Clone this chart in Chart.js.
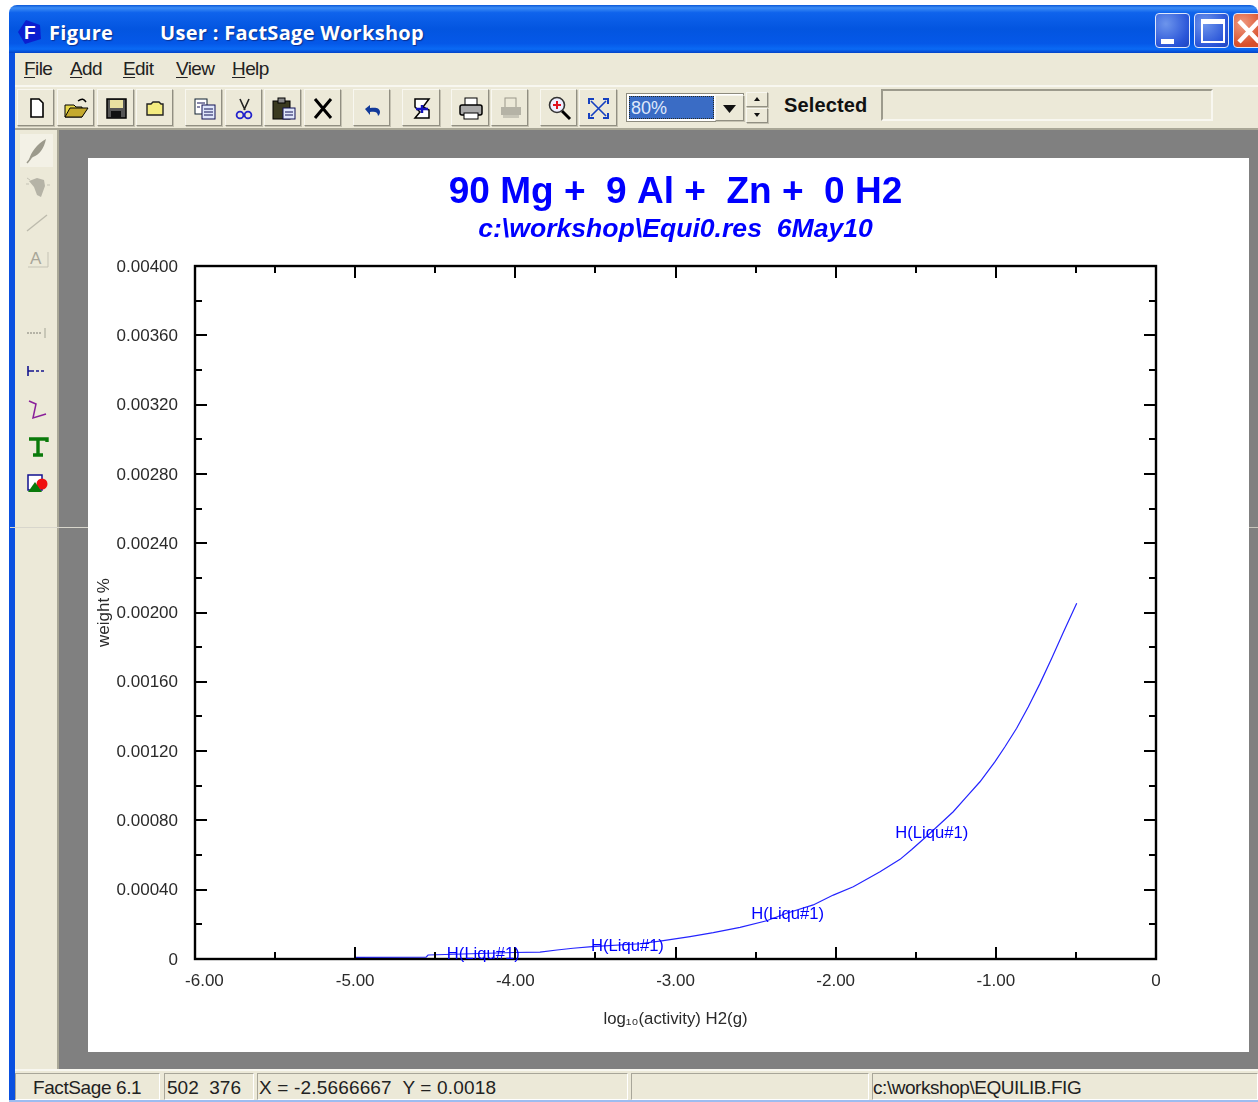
<!DOCTYPE html>
<html><head><meta charset="utf-8"><title>FactSage Figure</title>
<script src="https://cdn.jsdelivr.net/npm/chart.js@4"></script>
<style>
html,body{margin:0;padding:0;background:#fff;width:1258px;height:1102px;overflow:hidden}
body{font-family:"Liberation Sans",Arial,sans-serif;color:#222}
.a{position:absolute;box-sizing:border-box}
#titlebar{left:9px;top:5px;width:1249px;height:48px;border-radius:8px 8px 0 0;background:linear-gradient(#0a58d8 0,#3d8df5 6%,#0f63ec 16%,#0355e0 50%,#0558e8 80%,#0a6af5 92%,#0342c8 100%)}
.tt{color:#fff;font:bold 20px "Open Sans",sans-serif;letter-spacing:.3px;top:18px;text-shadow:1px 1px 1px #0a2f90;white-space:pre;line-height:30px}
.wb{top:13px;height:35px;border:1px solid #dfe8fb;border-radius:4px;background:radial-gradient(circle at 30% 30%,#6d95ec,#2a55d8 70%,#1f45c0)}
.menu{top:57px;font-size:19px;line-height:24px;color:#222;letter-spacing:-.6px}
.menu u{text-underline-offset:2px}
.btn{top:89px;height:37px;background:#ece9d8;border:1px solid;border-color:#f8f7f0 #918f82 #918f82 #f8f7f0;box-shadow:1px 1px 0 #c5c2b2}
.btn svg,.tool svg{position:absolute;left:0;top:0}
.tool{left:20px;width:33px;height:33px}
.sp{top:1073px;height:27px;border:1px solid;border-color:#a8a699 #fff #fff #a8a699;font-size:19px;line-height:28px;white-space:pre;padding-left:2px;background:#ece9d8;color:#222}
#chartBox{left:88px;top:158px;width:1161px;height:894px;background:#fff}
</style></head>
<body>
<div class="a" style="left:9px;top:50px;width:6px;height:1052px;background:#0a50e0"></div>
<div class="a" style="left:15px;top:53px;width:1243px;height:1049px;background:#ece9d8"></div>
<div class="a" id="titlebar"></div>
<svg class="a" style="left:17px;top:19px" width="26" height="26" viewBox="0 0 26 26"><polygon points="9,1 23,6 24,20 8,25 1,13" fill="#0b1fd0"/><text x="7" y="20" font-family="Liberation Sans" font-weight="bold" font-size="19" fill="#fff">F</text></svg>
<div class="a tt" style="left:49px">Figure</div>
<div class="a tt" style="left:160px">User : FactSage Workshop</div>
<div class="a wb" style="left:1155px;width:35px"><div class="a" style="left:5px;top:25px;width:13px;height:5px;background:#fff"></div></div>
<div class="a wb" style="left:1194px;width:35px"><div class="a" style="left:6px;top:5px;width:24px;height:24px;border:2px solid #fff;border-top-width:5px"></div></div>
<div class="a wb" style="left:1233px;width:30px;background:radial-gradient(circle at 30% 30%,#ef9a80,#d9502c 70%)"><svg width="25" height="33" style="position:absolute;left:0;top:0"><path d="M5 7 L25 28 M25 7 L5 28" stroke="#fff" stroke-width="4.5"/></svg></div>

<div class="a menu" style="left:24px"><u>F</u>ile</div>
<div class="a menu" style="left:70px"><u>A</u>dd</div>
<div class="a menu" style="left:123px"><u>E</u>dit</div>
<div class="a menu" style="left:176px"><u>V</u>iew</div>
<div class="a menu" style="left:232px"><u>H</u>elp</div>
<div class="a" style="left:15px;top:85px;width:1243px;height:2px;background:#f8f7f0"></div>
<div class="a" style="left:15px;top:128px;width:1243px;height:2px;background:#a9a797"></div>

<!-- toolbar buttons -->
<div class="a btn" style="left:17px;width:37px"><svg width="37" height="37"><path d="M13 9h8l4 4v14H13z" fill="#fff" stroke="#000" stroke-width="1.6"/></svg></div>
<div class="a btn" style="left:57px;width:37px"><svg width="37" height="37"><path d="M7 15h9l2 2h6v10H7z" fill="#e8d84a" stroke="#000"/><path d="M7 27l5-9h18l-6 9z" fill="#c4a92e" stroke="#000"/><path d="M20 11c4-3 6-2 8 1" fill="none" stroke="#000" stroke-width="1.5"/></svg></div>
<div class="a btn" style="left:97px;width:37px"><svg width="37" height="37"><rect x="9" y="9" width="19" height="19" fill="#555" stroke="#000" stroke-width="1.5"/><rect x="12" y="10" width="13" height="8" fill="#e8e0a0"/><rect x="13" y="21" width="10" height="7" fill="#111"/></svg></div>
<div class="a btn" style="left:136px;width:37px"><svg width="37" height="37"><path d="M10 14h4l2-2h6l2 2h2v11H10z" fill="#f4ec80" stroke="#222" stroke-width="1.4"/></svg></div>
<div class="a btn" style="left:185px;width:37px"><svg width="37" height="37"><rect x="9" y="9" width="12" height="15" fill="#fff" stroke="#123"/><rect x="16" y="15" width="13" height="14" fill="#dfe6fa" stroke="#115"/><path d="M18 19h9M18 22h9M18 25h9M11 13h8M11 17h3" stroke="#115"/></svg></div>
<div class="a btn" style="left:225px;width:37px"><svg width="37" height="37"><path d="M14 9l5 11M23 9l-5 11" stroke="#222" stroke-width="1.6"/><circle cx="14" cy="25" r="3.4" fill="none" stroke="#22c" stroke-width="1.8"/><circle cx="22" cy="25" r="3.4" fill="none" stroke="#22c" stroke-width="1.8"/></svg></div>
<div class="a btn" style="left:264px;width:37px"><svg width="37" height="37"><rect x="8" y="11" width="17" height="18" fill="#3a3a20" stroke="#000"/><rect x="13" y="8" width="7" height="5" fill="#888" stroke="#000"/><rect x="18" y="18" width="12" height="11" fill="#dfe6fa" stroke="#115"/><path d="M20 22h8M20 25h8" stroke="#115"/></svg></div>
<div class="a btn" style="left:304px;width:37px"><svg width="37" height="37"><path d="M10 9l16 19M26 9L10 28" stroke="#000" stroke-width="3"/></svg></div>
<div class="a btn" style="left:353px;width:37px"><svg width="37" height="37"><path d="M11 19l5-4v3c6-1 10 0 10 4 0 2-1 3-2 4 0-4-3-5-8-4v3z" fill="#123a9a"/></svg></div>
<div class="a btn" style="left:402px;width:38px"><svg width="37" height="37"><path d="M12 9h14l-6 8 6 3v8H12l5-6-5-5z" fill="#fff" stroke="#000" stroke-width="1.5"/><path d="M13 19h12M19 15v8" stroke="#11b" stroke-width="2.4"/></svg></div>
<div class="a btn" style="left:451px;width:38px"><svg width="37" height="37"><rect x="13" y="8" width="12" height="9" fill="#fff" stroke="#000"/><rect x="8" y="15" width="22" height="10" rx="2" fill="#aaa" stroke="#000" stroke-width="1.5"/><rect x="12" y="23" width="14" height="6" fill="#fff" stroke="#000"/></svg></div>
<div class="a btn" style="left:491px;width:37px"><svg width="37" height="37"><rect x="13" y="8" width="11" height="10" fill="#ece9d8" stroke="#9a988a"/><rect x="9" y="17" width="20" height="8" fill="#b5b3a6"/><rect x="11" y="25" width="16" height="3" fill="#c8c6b8"/></svg></div>
<div class="a btn" style="left:540px;width:37px"><svg width="37" height="37"><path d="M21 21l8 8" stroke="#000" stroke-width="3"/><circle cx="16" cy="15" r="7.5" fill="#eef" stroke="#333" stroke-width="1.6"/><path d="M12 15h8M16 11v8" stroke="#e01020" stroke-width="2"/></svg></div>
<div class="a btn" style="left:579px;width:38px"><svg width="37" height="37"><path d="M11 11l15 15M26 11L11 26" stroke="#1540c0" stroke-width="1.6"/><path d="M9 14V9h5M23 9h5v5M28 23v5h-5M14 28H9v-5" fill="none" stroke="#1540c0" stroke-width="2"/></svg></div>

<div class="a" style="left:626px;top:93px;width:118px;height:29px;background:#fff;border:1px solid #8d8b7e"></div>
<div class="a" style="left:629px;top:96px;width:85px;height:23px;background:#3a6cc5;border:1px dotted #2a2a20;color:#dfe8fb;font-size:18px;line-height:23px;padding-left:1px">80%</div>
<div class="a btn" style="left:715px;top:95px;width:29px;height:26px"><svg width="27" height="24"><path d="M7 9h13l-6.500 8z" fill="#111"/></svg></div>
<div class="a btn" style="left:746px;top:92px;width:22px;height:15px"><svg width="20" height="13"><path d="M7 8h6l-3-4z" fill="#111"/></svg></div>
<div class="a btn" style="left:746px;top:108px;width:22px;height:15px"><svg width="20" height="13"><path d="M7 4h6l-3 4z" fill="#111"/></svg></div>
<div class="a" style="left:784px;top:92px;font:bold 20px 'Liberation Sans';letter-spacing:.15px;line-height:26px;color:#111">Selected</div>
<div class="a" style="left:881px;top:89px;width:332px;height:32px;border:2px solid;border-color:#9c9a8c #f8f7f0 #f8f7f0 #9c9a8c"></div>

<!-- left tools -->
<div class="a" style="left:57px;top:130px;width:2px;height:939px;background:#a9a797"></div>
<div class="a" style="left:59px;top:130px;width:1199px;height:939px;background:#808080"></div>
<div class="a tool" style="top:134px;background:#f3f1e6"><svg width="33" height="33"><path d="M9 26c2-8 8-16 17-21-2 10-7 16-13 18z" fill="#9c9a8c"/><path d="M7 29l4-5" stroke="#9c9a8c" stroke-width="1.5"/></svg></div>
<div class="a tool" style="top:170px"><svg width="33" height="33"><path d="M9 11l8-3 7 2 1 6-4 11-4-2-3-8z" fill="#b5b3a6"/><path d="M6 14h3M27 15h3M7 8l3 2" stroke="#c5c3b5"/></svg></div>
<div class="a tool" style="top:205px"><svg width="33" height="33"><path d="M7 26L27 10" stroke="#bdbbad" stroke-width="1.4"/></svg></div>
<div class="a tool" style="top:242px"><svg width="33" height="33"><text x="10" y="22" font-family="Liberation Sans" font-size="17" fill="#a8a699">A</text><path d="M8 25h20v-15" fill="none" stroke="#c5c3b5"/></svg></div>
<div class="a tool" style="top:316px"><svg width="33" height="33"><path d="M7 17h15" stroke="#b5b3a6" stroke-width="2" stroke-dasharray="2 1"/><path d="M25 12v10" stroke="#bdbbad" stroke-width="1.5"/></svg></div>
<div class="a tool" style="top:353px"><svg width="33" height="33"><path d="M8 13v10M8 18h6" stroke="#15158f" stroke-width="1.6"/><path d="M16 18h10" stroke="#15158f" stroke-width="1.6" stroke-dasharray="3 2"/></svg></div>
<div class="a tool" style="top:391px"><svg width="33" height="33"><path d="M9 10l7 3-3 14 13-4" fill="none" stroke="#8a1f9a" stroke-width="1.5"/></svg></div>
<div class="a tool" style="top:430px"><svg width="33" height="33"><path d="M9 9h18v3M18 9v16M13 25h10" fill="none" stroke="#0a7a0a" stroke-width="3.4"/></svg></div>
<div class="a tool" style="top:466px"><svg width="33" height="33"><rect x="8" y="9" width="14" height="15" fill="#fff" stroke="#101090" stroke-width="1.5"/><circle cx="22" cy="18" r="5.500" fill="#f01010"/><path d="M8 26l7-10 7 10z" fill="#0a7a0a"/></svg></div>

<!-- figure sheet with the chart -->
<div class="a" id="chartBox"><canvas id="c" width="1161" height="894" style="display:block"></canvas></div>

<div class="a" style="left:10px;top:527px;width:78px;height:1px;background:#d8d6cc"></div>
<div class="a" style="left:1249px;top:527px;width:9px;height:1px;background:#c8c6bc"></div>

<!-- status bar -->
<div class="a" style="left:15px;top:1069px;width:1243px;height:2px;background:#f8f7f0"></div>
<div class="a sp" style="left:15px;width:145px;padding-left:17px;letter-spacing:-.4px">FactSage 6.1</div>
<div class="a sp" style="left:164px;width:90px">502  376</div>
<div class="a sp" style="left:257px;width:371px;padding-left:1px;letter-spacing:.17px">X = -2.5666667  Y = 0.0018</div>
<div class="a sp" style="left:631px;width:238px"></div>
<div class="a sp" style="left:872px;width:386px;padding-left:0;letter-spacing:-.45px">c:\workshop\EQUILIB.FIG</div>
<div class="a" style="left:9px;top:1100px;width:1249px;height:2px;background:#9dbcf0"></div>

<script>
const titleText = "90 Mg +  9 Al +  Zn +  0 H2";
const subtitleText = "c:\\workshop\\Equi0.res  6May10";
const xAxisTitle = "log\u2081\u2080(activity) H2(g)";
const yAxisTitle = "weight %";
const logActivity = [-5.0,-4.557,-4.545,-4.008,-3.846,-3.74,-3.64,-3.521,-3.222,-3.076,-2.909,-2.764,-2.597,-2.431,-2.306,-2.14,-2.015,-1.89,-1.723,-1.598,-1.525,-1.411,-1.266,-1.182,-1.099,-1.005,-0.943,-0.87,-0.797,-0.724,-0.651,-0.579,-0.495];
const weightPct = [0.0000098,0.000011,0.000023,0.0000375,0.00004,0.000052,0.000062,0.000071,0.000088,0.000106,0.000129,0.000152,0.000183,0.000221,0.000264,0.000312,0.000369,0.000417,0.000504,0.000575,0.000632,0.000726,0.00085,0.000937,0.001023,0.001139,0.001225,0.001332,0.001456,0.001591,0.001736,0.001884,0.002053];
const curveLabel = "H(Liqu#1)";
const labelX = [-4.2,-3.3,-2.3,-1.4];
const labelY = [0.000028,0.000075,0.000255,0.000722];

const BLUE = "#2424ff", BLUE_T = "#0000ff", FONT = '"Liberation Sans", Arial, sans-serif';

const inwardFrame = {
  id: "inwardFrame",
  afterDatasetsDraw(chart) {
    const {ctx, chartArea: a, scales: {x, y}} = chart;
    ctx.save();
    ctx.strokeStyle = "#000"; ctx.lineCap = "butt"; ctx.lineWidth = 2;
    ctx.beginPath();
    x.ticks.forEach(t => {
      const p = Math.round(x.getPixelForValue(t.value));
      const len = Number.isInteger(t.value) ? 12 : 7;
      if (p <= a.left + 1 || p >= a.right - 1) return;
      ctx.moveTo(p, a.bottom); ctx.lineTo(p, a.bottom - len);
      ctx.moveTo(p, a.top); ctx.lineTo(p, a.top + len);
    });
    y.ticks.forEach((t, i) => {
      const p = Math.round(y.getPixelForValue(t.value));
      const len = i % 2 === 0 ? 12 : 7;
      if (p <= a.top + 1 || p >= a.bottom - 1) return;
      ctx.moveTo(a.left, p); ctx.lineTo(a.left + len, p);
      ctx.moveTo(a.right, p); ctx.lineTo(a.right - len, p);
    });
    ctx.stroke();
    ctx.lineWidth = 2.4;
    ctx.strokeRect(a.left, a.top, a.right - a.left, a.bottom - a.top);
    ctx.fillStyle = BLUE_T;
    ctx.font = "16.6px " + FONT;
    ctx.textAlign = "center"; ctx.textBaseline = "middle";
    labelX.forEach((v, i) => ctx.fillText(curveLabel, x.getPixelForValue(v), y.getPixelForValue(labelY[i])));
    ctx.restore();
  }
};

new Chart(document.getElementById("c"), {
  type: "scatter",
  data: { datasets: [{
    data: logActivity.map((v, i) => ({x: v, y: weightPct[i]})),
    showLine: true, borderColor: BLUE, borderWidth: 1.2, pointRadius: 0, tension: 0, fill: false
  }]},
  plugins: [inwardFrame],
  options: {
    responsive: false, animation: false,
    layout: { padding: { right: 93, top: 0, left: 0, bottom: 0 } },
    plugins: {
      legend: { display: false }, tooltip: { enabled: false },
      title: { display: true, text: titleText, color: BLUE_T, fullSize: false,
        font: { family: FONT, size: 37, weight: "bold", lineHeight: 1.1 }, padding: { top: 14.85, bottom: 0 } },
      subtitle: { display: true, text: subtitleText, color: BLUE_T, fullSize: false,
        font: { family: FONT, size: 26.6, weight: "bold", style: "italic" }, padding: { top: 0, bottom: 20.55 } }
    },
    scales: {
      x: { type: "linear", min: -6, max: 0,
        afterFit: s => { s.height = 93; },
        grid: { display: false }, border: { display: false },
        ticks: { stepSize: 0.5, autoSkip: false, maxRotation: 0, color: "#2a2a2a", padding: 4,
          font: { family: FONT, size: 17 },
          callback: v => !Number.isInteger(v) ? "" : v === 0 ? "0" : v === -6 ? "    -6.00" : v.toFixed(2) },
        title: { display: true, text: xAxisTitle, color: "#2a2a2a", font: { family: FONT, size: 16.8 }, padding: { top: 0, bottom: 23 } }
      },
      y: { type: "linear", min: 0, max: 0.004,
        afterFit: s => { s.width = 107; },
        grid: { display: false }, border: { display: false },
        ticks: { stepSize: 0.0002, autoSkip: false, color: "#2a2a2a", padding: 9, labelOffset: 1,
          font: { family: FONT, size: 17 },
          callback: (v, i) => i % 2 ? "" : v === 0 ? "0" : v.toFixed(5) },
        title: { display: true, text: yAxisTitle, color: "#2a2a2a", font: { family: FONT, size: 17 }, padding: { top: 6, bottom: 0 } }
      }
    }
  }
});
</script>
</body></html>
